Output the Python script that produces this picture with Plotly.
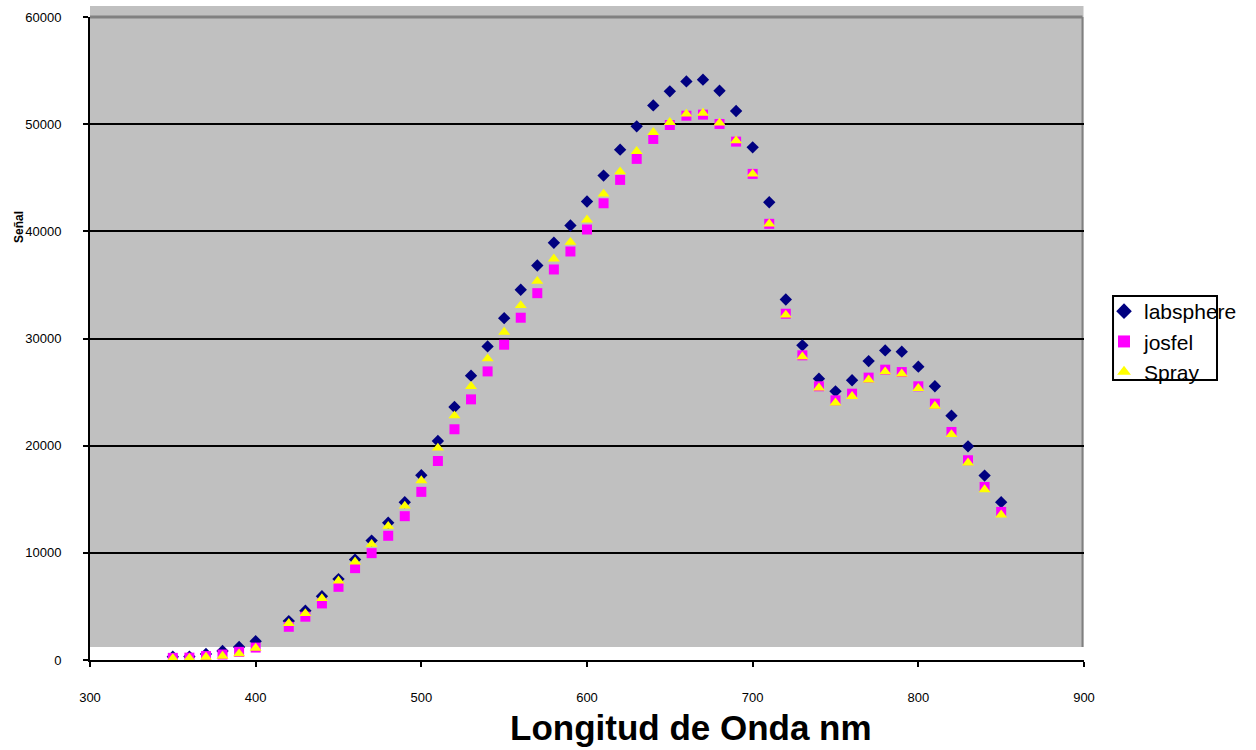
import plotly.graph_objects as go

# ---- data ----
wavelength = [350, 360, 370, 380, 390, 400,
              420, 430, 440, 450, 460, 470, 480, 490, 500,
              510, 520, 530, 540, 550, 560, 570, 580, 590, 600,
              610, 620, 630, 640, 650, 660, 670, 680, 690, 700,
              710, 720, 730, 740, 750, 760, 770, 780, 790, 800,
              810, 820, 830, 840, 850]

labsphere = [300, 320, 560, 850, 1220, 1750,
             3630, 4600, 5960, 7550, 9370, 11140, 12810, 14720, 17240,
             20440, 23610, 26530, 29260, 31900, 34550, 36810, 38930, 40540, 42780,
             45200, 47620, 49800, 51750, 53060, 53990, 54150, 53120, 51230, 47840,
             42710, 33640, 29360, 26250, 25070, 26100, 27890, 28890, 28770, 27370,
             25540, 22800, 19940, 17210, 14730]

josfel = [200, 220, 370, 510, 760, 1160,
          3100, 4040, 5280, 6830, 8570, 9970, 11590, 13420, 15690,
          18570, 21530, 24320, 26930, 29420, 31940, 34230, 36440, 38120, 40170,
          42620, 44800, 46760, 48620, 49920, 50790, 50890, 50020, 48370, 45360,
          40700, 32310, 28430, 25540, 24230, 24850, 26350, 27090, 26870, 25540,
          23920, 21280, 18640, 16150, 13820]

spray = [150, 160, 280, 370, 590, 1120,
         3420, 4350, 5750, 7390, 9160, 10810, 12490, 14380, 16750,
         19790, 22800, 25540, 28120, 30600, 33080, 35350, 37440, 38990, 41070,
         43490, 45570, 47470, 49240, 50170, 50950, 51040, 50110, 48460, 45360,
         40700, 32200, 28300, 25400, 24000, 24600, 26150, 26900, 26700, 25350,
         23700, 21050, 18400, 15900, 13550]

series_names = ["labsphere", "josfel", "Spray"]
x_ticks = [300, 400, 500, 600, 700, 800, 900]
y_ticks = [0, 10000, 20000, 30000, 40000, 50000, 60000]
x_title = "Longitud de Onda nm"
y_title = "Señal"

FONT = "Liberation Sans, Arial, sans-serif"

fig = go.Figure()
fig.add_trace(go.Scatter(x=wavelength, y=labsphere, mode="markers", name=series_names[0],
                         marker=dict(symbol="diamond", size=9.5, color="#000080", line=dict(width=0))))
fig.add_trace(go.Scatter(x=wavelength, y=josfel, mode="markers", name=series_names[1],
                         marker=dict(symbol="square", size=10, color="#FF00FF", line=dict(width=0))))
fig.add_trace(go.Scatter(x=wavelength, y=spray, mode="markers", name=series_names[2],
                         marker=dict(symbol="triangle-up", size=10.5, color="#FFFF00", line=dict(width=0))))

shapes = [
    # grey plot-area fill (Excel style, offset)
    dict(type="rect", xref="paper", yref="paper", x0=0, x1=0.9995, y0=0.0202, y1=1.0171,
         fillcolor="#C0C0C0", line=dict(width=0), layer="below"),
    # dark grey border on top and right
    dict(type="line", xref="paper", yref="paper", x0=0, x1=0.9985, y0=1.0, y1=1.0,
         line=dict(color="#808080", width=3), layer="above"),
    dict(type="line", xref="paper", yref="paper", x0=0.9985, x1=0.9985, y0=1.0, y1=0.0202,
         line=dict(color="#808080", width=2), layer="below"),
    # legend box
    dict(type="rect", xref="paper", yref="paper", x0=1.0292, x1=1.1338, y0=0.4355, y1=0.5661,
         fillcolor="rgba(0,0,0,0)", line=dict(color="black", width=2), layer="above"),
]

fig.update_layout(
    width=1256, height=750,
    margin=dict(l=90, r=172, t=17, b=90, autoexpand=False),
    paper_bgcolor="white",
    plot_bgcolor="rgba(0,0,0,0)",
    font=dict(family=FONT, color="black"),
    shapes=shapes,
    showlegend=True,
    legend=dict(xref="container", yref="container", x=0.8790, y=0.612,
                xanchor="left", yanchor="top",
                bgcolor="rgba(0,0,0,0)", borderwidth=0,
                font=dict(family=FONT, size=21, color="black"),
                itemsizing="constant", tracegroupgap=0),
    xaxis=dict(range=[300, 900], tickvals=x_ticks, ticktext=[str(v) for v in x_ticks],
               showgrid=False, zeroline=False, showline=True, linecolor="black", linewidth=2,
               ticks="outside", ticklen=5, tickwidth=2, tickcolor="black",
               tickfont=dict(family=FONT, size=13, color="black"), ticklabelstandoff=19),
    yaxis=dict(range=[0, 60000], tickvals=y_ticks, ticktext=[str(v) for v in y_ticks],
               showgrid=True, gridcolor="black", gridwidth=2, zeroline=False,
               showline=True, linecolor="black", linewidth=2,
               ticks="outside", ticklen=5, tickwidth=2, tickcolor="black",
               tickfont=dict(family=FONT, size=13, color="black"), ticklabelstandoff=19),
    annotations=[
        dict(text="<b>" + x_title + "</b>", xref="paper", yref="paper", x=0.6046, y=-0.1042,
             xanchor="center", yanchor="middle", showarrow=False,
             font=dict(family=FONT, size=35, color="black")),
        dict(text="<b>" + y_title + "</b>", xref="paper", yref="paper", x=-0.0714, y=0.6734,
             xanchor="center", yanchor="middle", textangle=-90, showarrow=False,
             font=dict(family=FONT, size=12, color="black")),
    ],
)

fig.write_html("out.html", config={"displayModeBar": False},
               post_script="document.body.style.margin='0';")
